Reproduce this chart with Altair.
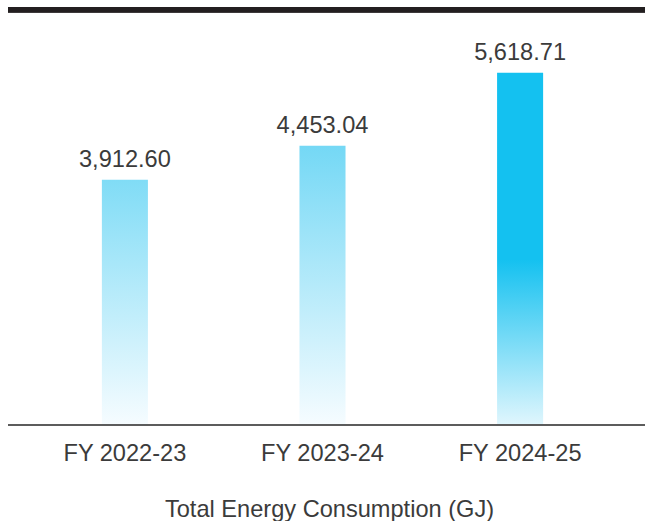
import altair as alt
import pandas as pd

# Annual energy use, in gigajoules
years = ["FY 2022-23", "FY 2023-24", "FY 2024-25"]
energy_gj = [3912.60, 4453.04, 5618.71]

# Vertical fill for each bar (top -> bottom); the latest year is highlighted
bar_fills = {
    "FY 2022-23": [("#80dcf6", 0.0), ("#f6fcff", 1.0)],
    "FY 2023-24": [("#74d8f5", 0.0), ("#f6fcff", 1.0)],
    "FY 2024-25": [("#14c1f0", 0.0), ("#14c1f0", 0.53), ("#e0f6fd", 1.0)],
}

df = pd.DataFrame({"year": years, "energy": energy_gj})

PLOT_W, PLOT_H = 637, 425
FONT = "Liberation Sans"
TEXT = "#3b3b3b"
FS = 23.6

x_enc = alt.X(
    "year:N",
    sort=years,
    scale=alt.Scale(type="band", range=[2, 627], paddingInner=0.767, paddingOuter=0.465),
    axis=alt.Axis(
        title="Total Energy Consumption (GJ)",
        domain=False,
        ticks=False,
        tickSize=0,
        grid=False,
        labelAngle=0,
        labelPadding=35,
        labelBaseline="alphabetic",
        labelFont=FONT,
        labelFontSize=FS,
        labelColor=TEXT,
        titleFont=FONT,
        titleFontSize=FS,
        titleFontWeight="normal",
        titleColor=TEXT,
        titleBaseline="alphabetic",
        titleY=91,
        titleX=321,
    ),
)
y_enc = alt.Y("energy:Q", scale=alt.Scale(domain=[0, 6780], nice=False), axis=None)

base = alt.Chart(df)

bars = []
for yr in years:
    stops = [alt.GradientStop(color=c, offset=o) for c, o in bar_fills[yr]]
    bars.append(
        base.transform_filter(alt.datum.year == yr)
        .mark_bar(
            color=alt.LinearGradient(gradient="linear", stops=stops, x1=0, x2=0, y1=0, y2=1)
        )
        .encode(x=x_enc, y=y_enc)
    )

labels = base.mark_text(
    baseline="alphabetic", dy=-13, font=FONT, fontSize=FS, color=TEXT
).encode(x=x_enc, y=y_enc, text=alt.Text("energy:Q", format=",.2f"))

baseline_rule = alt.Chart(df).mark_rule(color="#5c5c5c", strokeWidth=2).encode(
    y=alt.datum(0), x=alt.value(0), x2=alt.value(PLOT_W)
)

top_rule = alt.Chart(df).mark_rule(color="#231f20", strokeWidth=5.5).encode(
    y=alt.value(9.75), x=alt.value(0), x2=alt.value(PLOT_W)
)

chart = (
    alt.layer(*bars, labels, baseline_rule, top_rule)
    .properties(
        width=PLOT_W,
        height=PLOT_H,
        autosize=alt.AutoSizeParams(type="none"),
        padding={"left": 8, "top": 0, "right": 0, "bottom": 96},
        background="white",
    )
    .configure_view(stroke=None)
)

chart.save("out.html", embed_options={"renderer": "svg", "actions": False})
